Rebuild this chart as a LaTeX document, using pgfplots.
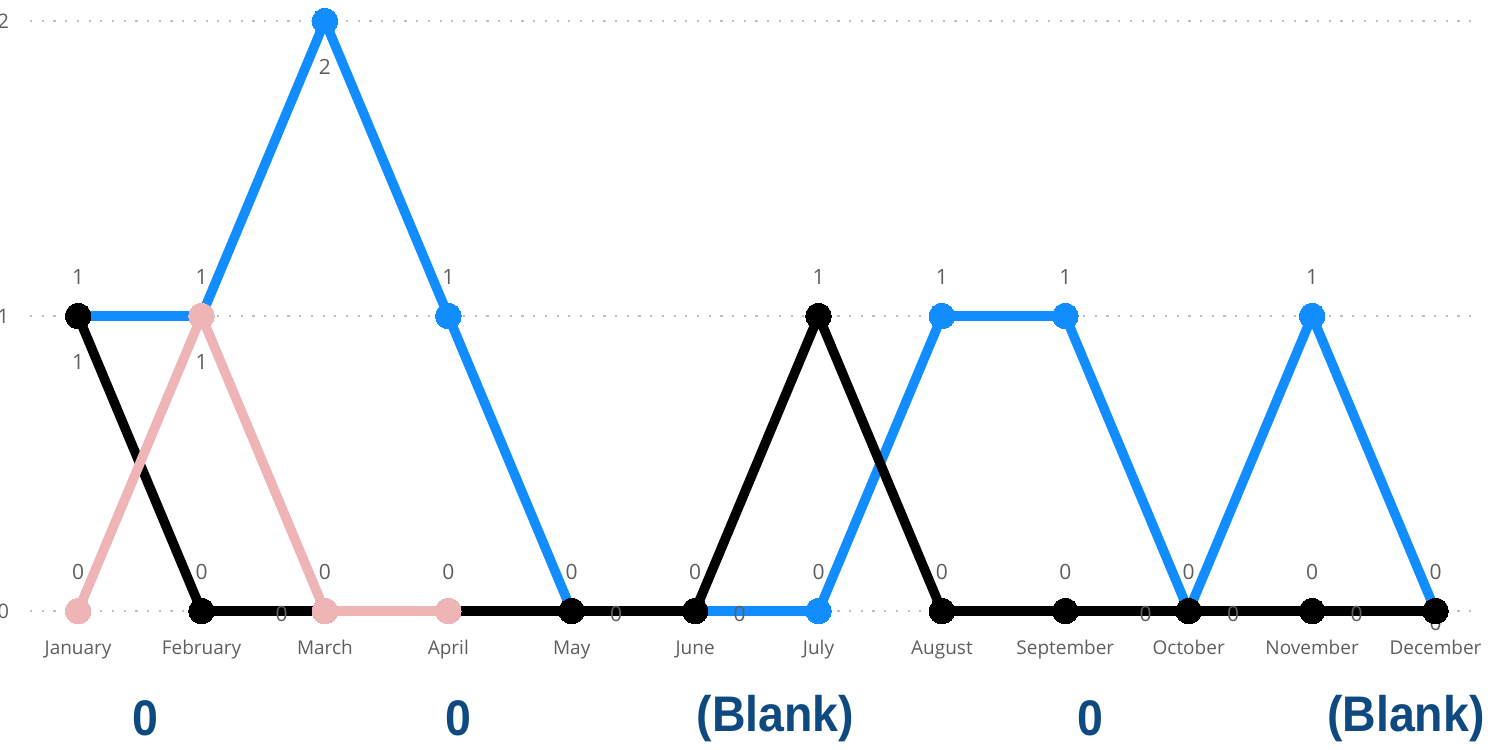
\documentclass[border=0pt]{standalone}
\usepackage{pgfplots}
\pgfplotsset{compat=1.18}
\usepackage{fontspec}
\setmainfont{Open Sans}
\newfontfamily\bigfont{Liberation Sans}

\definecolor{pbblue}{RGB}{17,141,255}
\definecolor{pbpink}{RGB}{238,180,182}
\definecolor{lblgray}{RGB}{96,94,92}
\definecolor{cardblue}{RGB}{14,73,128}

\tikzset{
    lbl/.style={font=\fontsize{10.5bp}{12bp}\selectfont, text=lblgray, inner sep=0pt},
    up/.style={lbl, yshift=19.5bp},
    dn/.style={lbl, yshift=-23bp},
    mid/.style={lbl, yshift=-1.5bp},
    card/.style={font=\bigfont\bfseries\fontsize{25bp}{28bp}\selectfont, text=cardblue, inner sep=0pt, xscale=0.93},
}

\begin{document}
\begin{tikzpicture}
% page = 1494 x 750 px, 1 px = 0.5bp; axis box starts at px (30,611)
\useasboundingbox (-15bp,-69.5bp) rectangle (732bp,305.5bp);

\begin{axis}[
    scale only axis,
    width=722.5bp, height=295bp,
    xmin=-0.39, xmax=11.32,
    ymin=0, ymax=2,
    clip=false,
    axis line style={draw=none},
    tick style={draw=none},
    ymajorgrids,
    grid style={draw=black!25, line width=1.1bp, dash pattern=on 1.1bp off 4.75bp},
    xtick={0,1,2,3,4,5,6,7,8,9,10,11},
    xticklabels={January,February,March,April,May,June,July,August,September,October,November,December},
    ytick={0,1,2},
    /pgf/number format/assume math mode=true,
    xticklabel style={font=\fontsize{9.5bp}{11bp}\selectfont, text=lblgray, anchor=center,
                      text height=7bp, text depth=2bp, yshift=-19bp},
    yticklabel style={font=\fontsize{10bp}{12bp}\selectfont, text=lblgray, anchor=east, xshift=-7bp},
    every axis plot/.append style={line width=4.8bp},
]

% blue series
\addplot[pbblue, mark=*, mark size=6.4bp, mark options={fill=pbblue, draw=pbblue, line width=0pt}]
coordinates {
    (0,1) (1,1) (2,2) (3,1) (4,0) (5,0)
    (6,0) (7,1) (8,1) (9,0) (10,1) (11,0)
};

% black series
\addplot[black, mark=*, mark size=6.4bp, mark options={fill=black, draw=black, line width=0pt}]
coordinates {
    (0,1) (1,0) (2,0) (3,0) (4,0) (5,0)
    (6,1) (7,0) (8,0) (9,0) (10,0) (11,0)
};

% pink series
\addplot[pbpink, mark=*, mark size=6.4bp, mark options={fill=pbpink, draw=pbpink, line width=0pt}]
coordinates {
    (0,0) (1,1) (2,0) (3,0)
};

% data labels above the points
\node[up] at (axis cs:0,1) {1};
\node[up] at (axis cs:0,0) {0};
\node[up] at (axis cs:1,1) {1};
\node[up] at (axis cs:1,0) {0};
\node[up] at (axis cs:2,0) {0};
\node[up] at (axis cs:3,1) {1};
\node[up] at (axis cs:3,0) {0};
\node[up] at (axis cs:4,0) {0};
\node[up] at (axis cs:5,0) {0};
\node[up] at (axis cs:6,1) {1};
\node[up] at (axis cs:6,0) {0};
\node[up] at (axis cs:7,1) {1};
\node[up] at (axis cs:7,0) {0};
\node[up] at (axis cs:8,1) {1};
\node[up] at (axis cs:8,0) {0};
\node[up] at (axis cs:9,0) {0};
\node[up] at (axis cs:10,1) {1};
\node[up] at (axis cs:10,0) {0};
\node[up] at (axis cs:11,0) {0};
% data labels below the points
\node[dn] at (axis cs:0,1) {1};
\node[dn] at (axis cs:1,1) {1};
\node[dn] at (axis cs:2,2) {2};
% labels sitting on the zero line
\node[mid] at (axis cs:1.65,0) {0};
\node[mid] at (axis cs:4.36,0) {0};
\node[mid] at (axis cs:5.36,0) {0};
\node[mid] at (axis cs:8.65,0) {0};
\node[mid] at (axis cs:9.36,0) {0};
\node[mid] at (axis cs:10.36,0) {0};
\node[lbl, yshift=-6bp] at (axis cs:11,0) {0};

% card values under the chart
\node[card] at (axis cs:0.543,-0.363) {0};
\node[card] at (axis cs:3.08,-0.363) {0};
\node[card] at (axis cs:5.65,-0.363) {(Blank)};
\node[card] at (axis cs:8.20,-0.363) {0};
\node[card] at (axis cs:10.76,-0.363) {(Blank)};

\end{axis}
\end{tikzpicture}
\end{document}
